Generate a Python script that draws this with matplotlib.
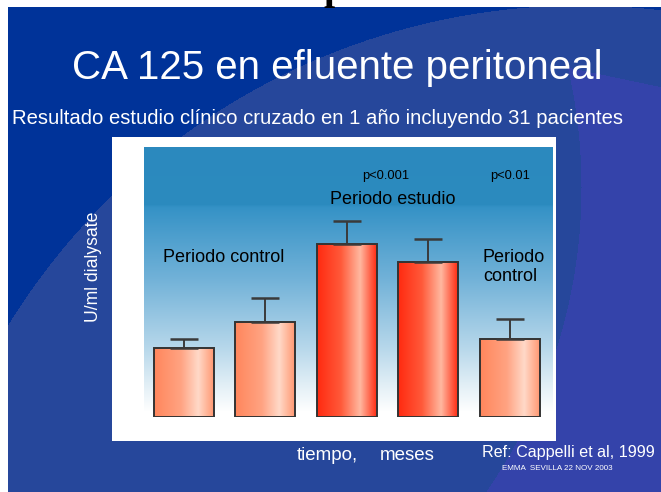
"""CA 125 en efluente peritoneal: slide-style bar chart with gradients."""
import numpy as np
import matplotlib
matplotlib.use("Agg")
import matplotlib.pyplot as plt
from matplotlib.colors import LinearSegmentedColormap, to_rgb
from matplotlib.patches import Rectangle

plt.rcParams["font.family"] = ["Liberation Sans", "DejaVu Sans"]

################################################################################
# DATA
################################################################################

periods = ["control 1", "control 2", "estudio 1", "estudio 2", "control 3"]
values = [34.5, 47.5, 86.5, 77.5, 39.0]        # U/ml dialysate
errors = [4.6, 12.2, 11.6, 11.6, 10.2]
is_study = [False, False, True, True, False]

################################################################################
# FIGURE + SLIDE BACKGROUND
################################################################################

W, H = 661, 492
fig = plt.figure(figsize=(W / 100, H / 100), dpi=100)
fig.patch.set_facecolor("white")

# Background built per pixel: dark blue, lighter arc, purple region.
yy, xx = np.mgrid[0:H, 0:W].astype(float)
dark = np.array(to_rgb("#003399"))
mid = np.array(to_rgb("#26479b"))
purple = np.array(to_rgb("#3443aa"))
img = np.empty((H, W, 3))
img[:] = mid
outside1 = (xx - 580) ** 2 + (yy - 677) ** 2 > 672 ** 2
img[outside1] = dark
purple_mask = ((xx - 47) ** 2 + (yy - 187) ** 2 > 534 ** 2) & (yy > 67 + (xx - 567) * 0.21)
img[purple_mask] = purple
# white margins of the scanned slide
img[:7, :] = 1.0
img[:, :8] = 1.0

bg = fig.add_axes([0, 0, 1, 1])
bg.imshow(img, extent=(0, W, H, 0), aspect="auto", interpolation="bilinear")
bg.set_xlim(0, W)
bg.set_ylim(H, 0)
bg.axis("off")

# White chart box.
bg.add_patch(Rectangle((112, 137), 556 - 112, 441 - 137, facecolor="white", edgecolor="none"))

# Cut-off black glyph at top (title of the slide above, outside the scan).
bg.text(324, -1.5, "p", family=["Liberation Serif", "DejaVu Serif"], fontweight="bold",
        fontsize=29, color="black", va="baseline", ha="left")

# Texts on the slide.
bg.text(337, 68, "CA 125 en efluente peritoneal", color="white", fontsize=29,
        ha="center", va="center")
bg.text(317, 119, "Resultado estudio clínico cruzado en 1 año incluyendo 31 pacientes",
        color="white", fontsize=14.6, ha="center", va="center")
bg.text(93, 267, "U/ml dialysate", color="white", fontsize=12.7, rotation=90,
        ha="center", va="center")
bg.text(297, 455, "tiempo,", color="white", fontsize=13.5, ha="left", va="center")
bg.text(380, 455, "meses", color="white", fontsize=13.5, ha="left", va="center")
bg.text(482, 452, "Ref: Cappelli et al, 1999", color="white", fontsize=11.6,
        ha="left", va="center")
bg.text(557, 468, "EMMA  SEVILLA 22 NOV 2003", color="white", fontsize=5.8,
        ha="center", va="center")

################################################################################
# BAR CHART
################################################################################

AX_LEFT, AX_RIGHT, AX_TOP, AX_BOTTOM = 144, 553, 147, 417
ax = fig.add_axes([AX_LEFT / W, (H - AX_BOTTOM) / H,
                   (AX_RIGHT - AX_LEFT) / W, (AX_BOTTOM - AX_TOP) / H])
x = np.arange(len(values))
ymax = (AX_BOTTOM - AX_TOP) / 2
XLIM = (-0.49, 4.53)
ax.axis("off")

# Vertical blue-to-white gradient for the plot area.
sky = LinearSegmentedColormap.from_list("sky", [
    (0.0, "#2b89be"), (0.22, "#2c8bbf"), (0.23, "#3592c6"),
    (0.5, "#72b2d8"), (0.75, "#b4d6ea"), (0.9, "#e2eff6"), (1.0, "#ffffff"),
])
grad = np.linspace(0, 1, 256)[:, None]
ax.imshow(grad, cmap=sky, extent=(XLIM[0], XLIM[1], 2.5, ymax), aspect="auto",
          origin="upper", zorder=0)

# Horizontal gradients for the bars.
pale = LinearSegmentedColormap.from_list("pale", [
    (0.0, "#ff865c"), (0.45, "#ffa382"), (0.74, "#ffd9c8"), (1.0, "#ff9872"),
])
red = LinearSegmentedColormap.from_list("red", [
    (0.0, "#ff2a10"), (0.4, "#ff5a3a"), (0.72, "#ffb8a0"), (1.0, "#ff2c12"),
])
hgrad = np.linspace(0, 1, 256)[None, :]
BAR_W = 0.736

bars = ax.bar(x, values, width=BAR_W, facecolor="none", edgecolor="#333333",
              linewidth=1.4, zorder=3)
for bar, study in zip(bars, is_study):
    x0, w, h = bar.get_x(), bar.get_width(), bar.get_height()
    im = ax.imshow(hgrad, cmap=red if study else pale, extent=(x0, x0 + w, 0, h),
                   aspect="auto", zorder=2)
    im.set_clip_path(bar)
ax.set_xlim(*XLIM)
ax.set_ylim(0, ymax)

# Upper error bars only.
ax.errorbar(x, values, yerr=[np.zeros(len(errors)), errors], fmt="none",
            ecolor="#3a3a3a", elinewidth=1.4, capsize=10, capthick=1.8, zorder=4)

# Annotations inside the chart.
ax.text(0.49, 79.5, "Periodo control", fontsize=13, ha="center", va="center")
ax.text(2.56, 108.5, "Periodo estudio", fontsize=13, ha="center", va="center")
ax.text(3.67, 75.0, "Periodo\ncontrol", fontsize=13, ha="left", va="center",
        linespacing=1.15)
ax.text(2.48, 120.5, "p<0.001", fontsize=9.3, ha="center", va="center")
ax.text(4.0, 120.5, "p<0.01", fontsize=9.3, ha="center", va="center")

fig.savefig("out.png", dpi=100)
